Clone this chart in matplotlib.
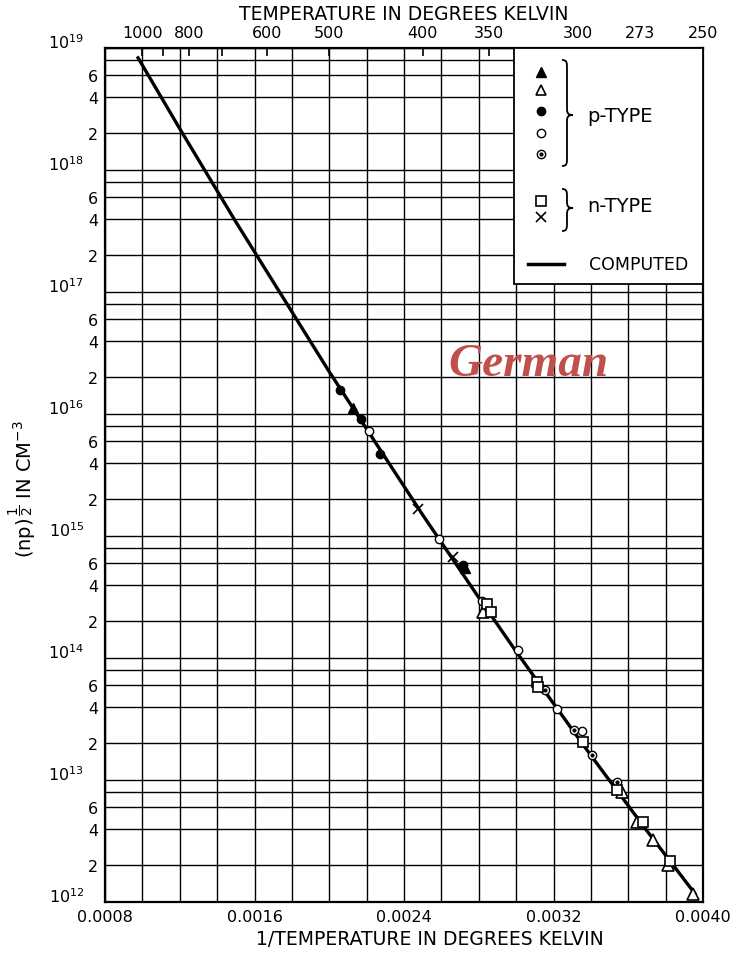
import numpy as np
import matplotlib
matplotlib.use("Agg")
import matplotlib.pyplot as plt
from matplotlib.ticker import FixedLocator, FixedFormatter, FuncFormatter, NullFormatter
from matplotlib.patches import Rectangle, PathPatch
from matplotlib.path import Path

# computed curve
calc_x = [0.000977, 0.0012, 0.0015, 0.0020, 0.0025, 0.0028, 0.0030, 0.0034, 0.0037, 0.003957]
calc_y = [8.3e18, 2.18e18, 3.76e17, 2.22e16, 1.49e15, 3.13e14, 1.13e14, 1.59e13, 3.83e12, 1.17e12]

# p-type
ptri_fill_x = [0.002127, 0.002726]
ptri_fill_y = [1.12e16, 5.47e14]
ptri_open_x = [0.002823, 0.003567, 0.003647, 0.003732, 0.003813, 0.003947]
ptri_open_y = [2.38e14, 7.97e12, 4.53e12, 3.22e12, 2.01e12, 1.16e12]
pcirc_fill_x = [0.002058, 0.002170, 0.002272, 0.002716]
pcirc_fill_y = [1.57e16, 9.1e15, 4.7e15, 5.8e14]
pcirc_open_x = [0.002213, 0.002587, 0.002817, 0.003010, 0.003219, 0.003353]
pcirc_open_y = [7.26e15, 9.45e14, 2.93e14, 1.16e14, 3.82e13, 2.52e13]
pdot_x = [0.003155, 0.003310, 0.003406, 0.003540]
pdot_y = [5.47e13, 2.57e13, 1.60e13, 9.6e12]

# n-type
nsq_x = [0.002844, 0.002866, 0.003112, 0.003117, 0.003358, 0.003540, 0.003679, 0.003823]
nsq_y = [2.77e14, 2.38e14, 6.36e13, 5.78e13, 2.05e13, 8.28e12, 4.53e12, 2.17e12]
ncross_x = [0.002475, 0.002662]
ncross_y = [1.66e15, 6.73e14]

x_major = [0.0008, 0.0016, 0.0024, 0.0032, 0.0040]
x_major_labels = ["0.0008", "0.0016", "0.0024", "0.0032", "0.0040"]
x_minor = [0.0010, 0.0012, 0.0014, 0.0018, 0.0020, 0.0022, 0.0026, 0.0028,
           0.0030, 0.0034, 0.0036, 0.0038]
decades = list(range(12, 20))
minor_mults = [2, 4, 6, 8]
top_temps = [1000, 800, 600, 500, 400, 350, 300, 273, 250]
top_minor_temps = [900, 700]

fig = plt.figure(figsize=(7.36, 9.54), dpi=100)
ax = fig.add_axes([105 / 736, 51 / 954, 598 / 736, 854 / 954])
ax.set_axisbelow(True)

ax.set_xlim(0.0008, 0.0040)
ax.set_yscale("log")
ax.set_ylim(1e12, 1e19)

ax.xaxis.set_major_locator(FixedLocator(x_major))
ax.xaxis.set_major_formatter(FixedFormatter(x_major_labels))
ax.xaxis.set_minor_locator(FixedLocator(x_minor))
ax.xaxis.set_minor_formatter(NullFormatter())

ax.yaxis.set_major_locator(FixedLocator([10.0 ** d for d in decades]))
ax.yaxis.set_major_formatter(FuncFormatter(lambda v, p: r"$10^{%d}$" % round(np.log10(v))))
ax.yaxis.set_minor_locator(FixedLocator([m * 10.0 ** d for d in decades[:-1] for m in minor_mults]))


def minor_fmt(v, p):
    m = round(v / 10.0 ** np.floor(np.log10(v) + 1e-9))
    return "" if m == 8 else str(m)


ax.yaxis.set_minor_formatter(FuncFormatter(minor_fmt))

ax.grid(which="both", color="black", lw=1.0)
ax.tick_params(which="both", length=0)
ax.tick_params(axis="x", labelsize=11.5, pad=5)
ax.tick_params(axis="y", which="minor", labelsize=11.5, pad=5)
ax.tick_params(axis="y", which="major", labelsize=11.5, pad=15)
for lab in ax.get_yticklabels():
    lab.set_verticalalignment("baseline")
for s in ax.spines.values():
    s.set_linewidth(1.6)

ax.set_xlabel("1/TEMPERATURE IN DEGREES KELVIN", fontsize=13.5)
ax.xaxis.set_label_coords(0.543, -0.032)
ax.set_ylabel(r"$\mathrm{(np)}^{\,\dfrac{1}{2}}$ IN CM$^{-3}$", fontsize=14)
ax.yaxis.set_label_coords(-0.112, 0.484)


def inv(v):
    return 1.0 / np.clip(np.asarray(v, float), 1e-12, None)


sec = ax.secondary_xaxis("top", functions=(inv, inv))
sec.xaxis.set_major_locator(FixedLocator(top_temps))
sec.xaxis.set_major_formatter(FixedFormatter([str(t) for t in top_temps]))
sec.xaxis.set_minor_locator(FixedLocator(top_minor_temps))
sec.xaxis.set_minor_formatter(NullFormatter())
sec.tick_params(which="both", direction="in", length=6, width=1.2, labelsize=11.5, pad=6)
sec.set_xlabel("TEMPERATURE IN DEGREES KELVIN", fontsize=13.5, labelpad=4)

# computed curve and data
ax.plot(calc_x, calc_y, color="black", lw=2.4, zorder=4)
mk = dict(color="black", linestyle="none", zorder=5)
ax.plot(ptri_fill_x, ptri_fill_y, marker="^", ms=7, **mk)
ax.plot(ptri_open_x, ptri_open_y, marker="^", ms=8, mfc="white", mew=1.2, **mk)
ax.plot(pcirc_fill_x, pcirc_fill_y, marker="o", ms=6, **mk)
ax.plot(pcirc_open_x, pcirc_open_y, marker="o", ms=6, mfc="white", mew=1.0, **mk)
ax.plot(pdot_x, pdot_y, marker="o", ms=6, mfc="white", mew=1.0, **mk)
ax.plot(pdot_x, pdot_y, marker="o", ms=2, **mk)
ax.plot(nsq_x, nsq_y, marker="s", ms=7, mfc="white", mew=1.2, **mk)
ax.plot(ncross_x, ncross_y, marker="x", ms=7, mew=1.2, **mk)


# legend box
def to_ax(px, py):
    return ((px - 105) / 598, (903 - py) / 854)


x0, y0 = to_ax(514, 285)
ax.add_patch(Rectangle((x0, y0), 1 - x0, 1 - y0, transform=ax.transAxes,
                       fc="white", ec="black", lw=1.3, zorder=3))
lx = to_ax(541, 0)[0]
lm = dict(color="black", linestyle="none", transform=ax.transAxes, zorder=6)
ax.plot([lx], [to_ax(0, 73)[1]], marker="^", ms=7, **lm)
ax.plot([lx], [to_ax(0, 91)[1]], marker="^", ms=7, mfc="white", mew=1.2, **lm)
ax.plot([lx], [to_ax(0, 112)[1]], marker="o", ms=6, **lm)
ax.plot([lx], [to_ax(0, 134)[1]], marker="o", ms=6, mfc="white", mew=1.0, **lm)
ax.plot([lx], [to_ax(0, 155)[1]], marker="o", ms=6, mfc="white", mew=1.0, **lm)
ax.plot([lx], [to_ax(0, 155)[1]], marker="o", ms=2, **lm)
ax.plot([lx], [to_ax(0, 202)[1]], marker="s", ms=6.5, mfc="white", mew=1.2, **lm)
ax.plot([lx], [to_ax(0, 218)[1]], marker="x", ms=6.5, mew=1.2, **lm)
ax.plot([to_ax(528, 0)[0], to_ax(564, 0)[0]], [to_ax(0, 265)[1]] * 2,
        color="black", lw=2.5, transform=ax.transAxes, zorder=6)


def brace(top, bot, mid, xl=562, xb=567, xt=573):
    pts = [(xl, top), (xb, top), (xb, top + 3), (xb, top + 8),
           (xb, mid - 6),
           (xb, mid - 2), (xb + 1, mid), (xt, mid),
           (xb + 1, mid), (xb, mid + 2), (xb, mid + 6),
           (xb, bot - 8),
           (xb, bot - 3), (xb, bot), (xl, bot)]
    codes = [Path.MOVETO] + [Path.CURVE4] * 3 + [Path.LINETO] + [Path.CURVE4] * 6 + \
            [Path.LINETO] + [Path.CURVE4] * 3
    verts = [to_ax(*p) for p in pts]
    ax.add_patch(PathPatch(Path(verts, codes), transform=ax.transAxes,
                           fc="none", ec="black", lw=1.3, zorder=6))


brace(61, 167, 116)
brace(190, 232, 209)
tx = to_ax(587, 0)[0]
ax.text(tx, to_ax(0, 117)[1], "p-TYPE", transform=ax.transAxes, fontsize=14,
        va="center", ha="left", zorder=7)
ax.text(tx, to_ax(0, 207)[1], "n-TYPE", transform=ax.transAxes, fontsize=14,
        va="center", ha="left", zorder=7)
ax.text(to_ax(589, 0)[0], to_ax(0, 265)[1], "COMPUTED", transform=ax.transAxes,
        fontsize=12.5, va="center", ha="left", zorder=7)

gx, gy = to_ax(528, 365)
ax.text(gx, gy, "German", transform=ax.transAxes, fontsize=34, family="Liberation Serif",
        weight="bold", style="italic", color="#c0504d", ha="center", va="center", zorder=8)

fig.savefig("out.png", dpi=100)
